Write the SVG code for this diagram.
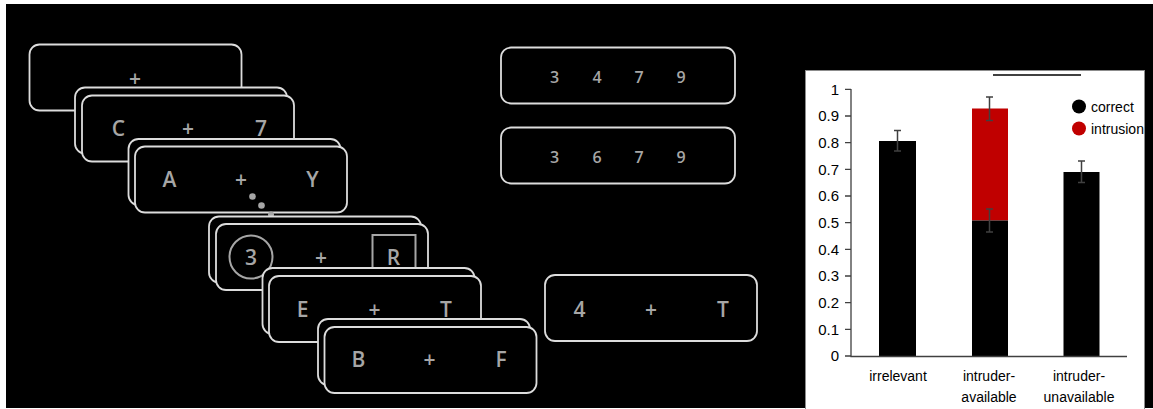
<svg xmlns="http://www.w3.org/2000/svg" width="1153" height="409" viewBox="0 0 1153 409">
  <style>
    .card { fill: #000; stroke: #dcdcdc; stroke-width: 1.8; }
    .sym { font-family: "Open Sans", "Noto Sans", sans-serif; font-weight: 600; font-size: 21px; fill: #a6a6a6; text-anchor: middle; }
    .dig { font-family: "Open Sans", "Noto Sans", sans-serif; font-weight: 600; font-size: 16px; fill: #a6a6a6; text-anchor: middle; }
    .mark { fill: none; stroke: #a6a6a6; stroke-width: 2; }
    .dot { fill: #a6a6a6; }
    .ax { font-family: "Liberation Sans", Arial, sans-serif; font-size: 14px; fill: #000; }
    .ylab { text-anchor: end; font-size: 15px; }
    .xlab { text-anchor: middle; }
    .axis { stroke: #404040; stroke-width: 1.3; fill: none; }
    .err { stroke: #404040; stroke-width: 1.5; fill: none; }
  </style>

  <!-- page background -->
  <rect x="0" y="0" width="1153" height="409" fill="#fff"/>
  <rect x="6" y="4" width="1147" height="404" fill="#000"/>

  <!-- fixation screen -->
  <g id="fixation">
    <rect class="card" x="29.5" y="44.5" width="212" height="66" rx="10"/>
    <text class="sym" x="135" y="86">+</text>
  </g>

  <!-- trial: C + 7 -->
  <g id="trial-c7">
    <rect class="card" x="75" y="87.5" width="212" height="66" rx="10"/>
    <rect class="card" x="82" y="95.5" width="212" height="66" rx="10"/>
    <text class="sym" x="118.5" y="136">C</text>
    <text class="sym" x="188" y="136">+</text>
    <text class="sym" x="261" y="136">7</text>
  </g>

  <!-- trial: A + Y -->
  <g id="trial-ay">
    <rect class="card" x="128.5" y="139" width="212" height="66" rx="10"/>
    <rect class="card" x="135" y="146.5" width="212" height="66" rx="10"/>
    <text class="sym" x="169.5" y="187">A</text>
    <text class="sym" x="241" y="187">+</text>
    <text class="sym" x="312.5" y="187">Y</text>
  </g>

  <!-- ellipsis between trials -->
  <g id="ellipsis">
    <circle class="dot" cx="252.5" cy="196.5" r="3.3"/>
    <circle class="dot" cx="261.5" cy="205.5" r="3.3"/>
    <circle class="dot" cx="271" cy="214.5" r="3"/>
  </g>

  <!-- trial: 3 + R (probe marked) -->
  <g id="trial-3r">
    <rect class="card" x="209" y="216.5" width="212" height="66" rx="10"/>
    <rect class="card" x="216" y="224" width="212" height="66" rx="10"/>
    <circle class="mark" cx="251" cy="257" r="21.5"/>
    <rect class="mark" x="372.5" y="235" width="43" height="40"/>
    <text class="sym" x="251" y="264.5">3</text>
    <text class="sym" x="321" y="264.5">+</text>
    <text class="sym" x="393.5" y="264.5">R</text>
  </g>

  <!-- trial: E + T -->
  <g id="trial-et">
    <rect class="card" x="262.5" y="268" width="212" height="66" rx="10"/>
    <rect class="card" x="269" y="276" width="212" height="66" rx="10"/>
    <text class="sym" x="302.5" y="317">E</text>
    <text class="sym" x="374.5" y="317">+</text>
    <text class="sym" x="446" y="317">T</text>
  </g>

  <!-- trial: B + F -->
  <g id="trial-bf">
    <rect class="card" x="318" y="319" width="212" height="66" rx="10"/>
    <rect class="card" x="324.5" y="327" width="212" height="66" rx="10"/>
    <text class="sym" x="358.5" y="367">B</text>
    <text class="sym" x="429.5" y="367">+</text>
    <text class="sym" x="501" y="367">F</text>
  </g>

  <!-- memory sets -->
  <g id="set-3479">
    <rect class="card" x="501" y="47.5" width="234" height="56" rx="10"/>
    <text class="dig" x="554.5" y="83">3</text>
    <text class="dig" x="597" y="83">4</text>
    <text class="dig" x="639" y="83">7</text>
    <text class="dig" x="681" y="83">9</text>
  </g>
  <g id="set-3679">
    <rect class="card" x="501" y="127.5" width="234" height="56" rx="10"/>
    <text class="dig" x="554.5" y="162.5">3</text>
    <text class="dig" x="597" y="162.5">6</text>
    <text class="dig" x="639" y="162.5">7</text>
    <text class="dig" x="681" y="162.5">9</text>
  </g>

  <!-- example screen: 4 + T -->
  <g id="trial-4t">
    <rect class="card" x="545" y="275" width="212" height="66" rx="10"/>
    <text class="sym" x="579.5" y="317">4</text>
    <text class="sym" x="651" y="317">+</text>
    <text class="sym" x="723" y="317">T</text>
  </g>

  <!-- bar chart: proportion of responses -->
  <g id="chart">
    <rect x="805.5" y="70.5" width="339" height="340" fill="#fff" stroke="#8c8c8c" stroke-width="1"/>

    <!-- bars -->
    <rect x="879" y="141" width="37" height="215.5" fill="#000"/>
    <rect x="972" y="108.5" width="36" height="112" fill="#c00000"/>
    <rect x="972" y="220.5" width="36" height="136" fill="#000"/>
    <rect x="1063.5" y="172" width="36" height="184.5" fill="#000"/>

    <!-- error bars -->
    <path class="err" d="M897.5 130.5V151M894 130.5h7M894 151h7"/>
    <path class="err" d="M989.5 97V120.5M986 97h7M986 120.5h7"/>
    <path class="err" d="M989.5 209V232M986 209h7M986 232h7"/>
    <path class="err" d="M1081.5 161V182.5M1078 161h7M1078 182.5h7"/>

    <!-- axes -->
    <path class="axis" d="M851 89V356.5H1127"/>
    <path class="axis" d="M845 89.3h6M845 116h6M845 142.6h6M845 169.3h6M845 196h6M845 222.6h6M845 249.3h6M845 276h6M845 302.6h6M845 329.3h6M845 356h6"/>

    <g class="ax ylab">
      <text x="839" y="94.5">1</text>
      <text x="839" y="121">0.9</text>
      <text x="839" y="147.5">0.8</text>
      <text x="839" y="174.5">0.7</text>
      <text x="839" y="201">0.6</text>
      <text x="839" y="227.5">0.5</text>
      <text x="839" y="254.5">0.4</text>
      <text x="839" y="281">0.3</text>
      <text x="839" y="307.5">0.2</text>
      <text x="839" y="334.5">0.1</text>
      <text x="839" y="361">0</text>
    </g>

    <g class="ax xlab">
      <text x="898" y="381">irrelevant</text>
      <text x="989" y="381">intruder-</text>
      <text x="989" y="402">available</text>
      <text x="1079" y="381">intruder-</text>
      <text x="1079" y="402">unavailable</text>
    </g>

    <!-- comparison line -->
    <path d="M993 75H1081" stroke="#000" stroke-width="1.5"/>

    <!-- legend -->
    <circle cx="1079" cy="106.5" r="7" fill="#000"/>
    <circle cx="1079" cy="128.5" r="7" fill="#c00000"/>
    <text class="ax" x="1091" y="112">correct</text>
    <text class="ax" x="1091" y="134">intrusion</text>
  </g>
</svg>
